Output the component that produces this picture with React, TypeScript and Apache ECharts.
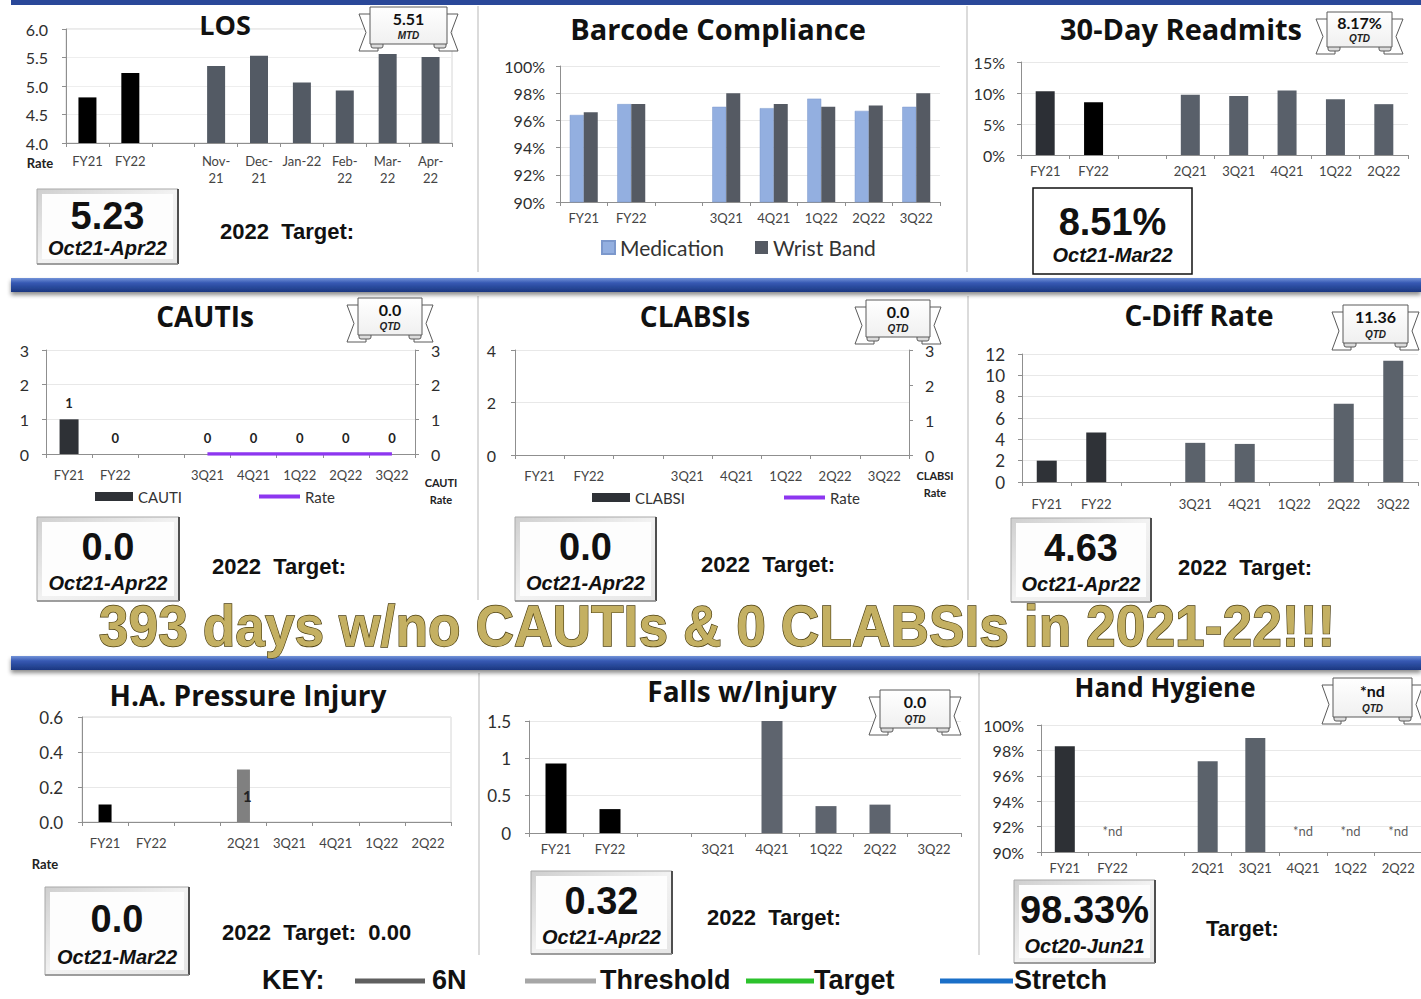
import React, { useEffect, useRef } from 'react';
import * as echarts from 'echarts';

// ---------------- DATA ----------------
const LOS_CATS = ['FY21', 'FY22', '', 'Nov-\n21', 'Dec-\n21', 'Jan-22', 'Feb-\n22', 'Mar-\n22', 'Apr-\n22'];
const LOS_VALUES = [4.8, 5.23, null, 5.35, 5.53, 5.06, 4.92, 5.56, 5.51];

const BARCODE_CATS = ['FY21', 'FY22', '', '3Q21', '4Q21', '1Q22', '2Q22', '3Q22'];
const BARCODE_MEDICATION = [96.4, 97.2, null, 97.0, 96.9, 97.6, 96.7, 97.0];
const BARCODE_WRISTBAND = [96.6, 97.2, null, 98.0, 97.2, 97.0, 97.1, 98.0];

const READMIT_CATS = ['FY21', 'FY22', '', '2Q21', '3Q21', '4Q21', '1Q22', '2Q22'];
const READMIT_VALUES = [10.3, 8.51, null, 9.7, 9.5, 10.4, 9.0, 8.2];

const CAUTI_CATS = ['FY21', 'FY22', '', '3Q21', '4Q21', '1Q22', '2Q22', '3Q22'];
const CAUTI_COUNTS = [1, 0, null, 0, 0, 0, 0, 0];
const CAUTI_RATE = [null, null, null, 0, 0, 0, 0, 0];

const CLABSI_CATS = ['FY21', 'FY22', '', '3Q21', '4Q21', '1Q22', '2Q22', '3Q22'];
const CLABSI_COUNTS = [null, null, null, null, null, null, null, null];
const CLABSI_RATE = [null, null, null, null, null, null, null, null];

const CDIFF_CATS = ['FY21', 'FY22', '', '3Q21', '4Q21', '1Q22', '2Q22', '3Q22'];
const CDIFF_VALUES = [2.0, 4.63, null, 3.67, 3.57, null, 7.33, 11.36];

const HAPI_CATS = ['FY21', 'FY22', '', '2Q21', '3Q21', '4Q21', '1Q22', '2Q22'];
const HAPI_VALUES = [0.1, null, null, 0.3, null, null, null, null];
const HAPI_COUNTS = [null, null, null, 1, null, null, null, null];

const FALLS_CATS = ['FY21', 'FY22', '', '3Q21', '4Q21', '1Q22', '2Q22', '3Q22'];
const FALLS_VALUES = [0.93, 0.32, null, null, 1.51, 0.36, 0.38, null];

const HH_CATS = ['FY21', 'FY22', '', '2Q21', '3Q21', '4Q21', '1Q22', '2Q22'];
const HH_VALUES = [98.33, null, null, 97.15, 98.98, null, null, null];
const HH_NOTES = ['', '*nd', '', '', '', '*nd', '*nd', '*nd'];

const PANEL_TITLES = ['LOS', 'Barcode Compliance', '30-Day Readmits', 'CAUTIs', 'CLABSIs', 'C-Diff Rate', 'H.A. Pressure Injury', 'Falls w/Injury', 'Hand Hygiene'];
const KPI_VALUES = ['5.23', '8.51%', '0.0', '0.0', '4.63', '0.0', '0.32', '98.33%'];
const KPI_PERIODS = ['Oct21-Apr22', 'Oct21-Mar22', 'Oct21-Apr22', 'Oct21-Apr22', 'Oct21-Apr22', 'Oct21-Mar22', 'Oct21-Apr22', 'Oct20-Jun21'];
const RIBBON_VALUES = ['5.51', '8.17%', '0.0', '0.0', '11.36', '0.0', '*nd'];
const RIBBON_PERIODS = ['MTD', 'QTD', 'QTD', 'QTD', 'QTD', 'QTD', 'QTD'];
const TARGET_TEXTS = ['2022  Target:', '2022  Target:', '2022  Target:', '2022  Target:', '2022  Target:  0.00', '2022  Target:', 'Target:'];
const BANNER_TEXT = '393 days w/no CAUTIs & 0 CLABSIs in 2021-22!!!';
const KEY_ITEMS = ['6N', 'Threshold', 'Target', 'Stretch'];

// ---------------- STYLE HELPERS ----------------
const LATO = 'Lato';
const OPEN = '"Open Sans"';
const ARIAL = '"Liberation Sans", Arial, sans-serif';
const AXIS_COLOR = '#8f8f8f';

function grid(left: number, top: number, width: number, height: number, border = false) {
  return {
    left, top, width, height,
    containLabel: false,
    outerBoundsMode: 'none',
    show: border,
    borderColor: '#d6d6d6',
    borderWidth: 1,
    backgroundColor: 'transparent',
  };
}

function xCat(gridIndex: number, data: string[], margin: number) {
  return {
    type: 'category', gridIndex, data,
    axisLine: { show: true, lineStyle: { color: AXIS_COLOR, width: 1 } },
    axisTick: { show: true, length: 4, lineStyle: { color: AXIS_COLOR } },
    axisLabel: { interval: 0, margin, fontFamily: LATO, fontSize: 13, color: '#444444', lineHeight: 17 },
    splitLine: { show: false },
  };
}

function yVal(gridIndex: number, min: number, max: number, interval: number, formatter: any, margin: number, extra: any = {}) {
  return {
    type: 'value', gridIndex, min, max, interval,
    axisLine: { show: true, lineStyle: { color: AXIS_COLOR, width: 1 } },
    axisTick: { show: true, length: 4, lineStyle: { color: AXIS_COLOR } },
    axisLabel: { margin, fontFamily: LATO, fontSize: 16, color: '#2e2e2e', formatter },
    splitLine: { show: true, lineStyle: { color: '#e8e8e8', width: 1 } },
    ...extra,
  };
}

function barData(values: (number | null)[], colorAt: (i: number) => string) {
  return values.map((v, i) => (v == null ? '-' : { value: v, itemStyle: { color: colorAt(i) } }));
}

function txt(text: string, x: number, y: number, size: number, opts: any = {}) {
  return {
    type: 'text', x, y, z: opts.z ?? 60,
    scaleX: opts.scaleX ?? 1,
    style: {
      text,
      fontFamily: opts.family ?? ARIAL,
      fontWeight: opts.weight ?? 'bold',
      fontStyle: opts.italic ? 'italic' : 'normal',
      fontSize: size,
      fill: opts.fill ?? '#111111',
      align: opts.align ?? 'left',
      verticalAlign: 'middle',
      ...(opts.extraStyle || {}),
    },
  };
}

function bevelBox(x: number, y: number, w: number, h: number, big: string, small: string, bigSize = 36) {
  return [
    {
      type: 'rect', z: 40, shape: { x, y, width: w, height: h },
      style: {
        fill: new echarts.graphic.LinearGradient(0, 0, 1, 1, [
          { offset: 0, color: '#cfcfcf' }, { offset: 0.5, color: '#f2f2f2' }, { offset: 1, color: '#e6e6e6' },
        ]),
        stroke: '#a9a9a9', lineWidth: 1,
      },
    },
    { type: 'rect', z: 41, shape: { x: x + 5, y: y + 5, width: w - 10, height: h - 10 }, style: { fill: '#fdfdfd' } },
    { type: 'line', z: 42, shape: { x1: x + w, y1: y, x2: x + w, y2: y + h }, style: { stroke: '#4f4f4f', lineWidth: 2 } },
    { type: 'line', z: 42, shape: { x1: x, y1: y + h, x2: x + w, y2: y + h }, style: { stroke: '#8c8c8c', lineWidth: 1.5 } },
    txt(big, x + w / 2, y + h * 0.36, bigSize, { align: 'center' }),
    txt(small, x + w / 2, y + h * 0.79, 20, { align: 'center', italic: true }),
  ];
}

function plainBox(x: number, y: number, w: number, h: number, big: string, small: string) {
  return [
    { type: 'rect', z: 40, shape: { x, y, width: w, height: h }, style: { fill: '#ffffff', stroke: '#111111', lineWidth: 1.5 } },
    txt(big, x + w / 2, y + h * 0.39, 38, { align: 'center' }),
    txt(small, x + w / 2, y + h * 0.78, 20, { align: 'center', italic: true }),
  ];
}

function ribbon(x: number, y: number, w: number, h: number, big: string, small: string) {
  const d = 7, t = 11;
  const st = { fill: '#ffffff', stroke: '#5a5a5a', lineWidth: 1 };
  const fold = { fill: '#dcdcdc', stroke: '#5a5a5a', lineWidth: 1 };
  return [
    { type: 'polygon', z: 100, shape: { points: [[x + 8, y + d], [x - t, y + d], [x - t + 7, y + h / 2 + d], [x - t, y + h + d], [x + 8, y + h + d]] }, style: st },
    { type: 'polygon', z: 100, shape: { points: [[x + w - 8, y + d], [x + w + t, y + d], [x + w + t - 7, y + h / 2 + d], [x + w + t, y + h + d], [x + w - 8, y + h + d]] }, style: st },
    { type: 'rect', z: 101, shape: { x: x + 1, y: y + h - 3, width: 12, height: 7, r: 2 }, style: fold },
    { type: 'rect', z: 101, shape: { x: x + w - 13, y: y + h - 3, width: 12, height: 7, r: 2 }, style: fold },
    {
      type: 'rect', z: 102, shape: { x, y, width: w, height: h },
      style: {
        fill: new echarts.graphic.LinearGradient(0, 0, 0, 1, [{ offset: 0, color: '#ffffff' }, { offset: 1, color: '#f0f0f0' }]),
        stroke: '#5a5a5a', lineWidth: 1,
      },
    },
    txt(big, x + w / 2, y + h * 0.31, 16, { align: 'center', family: LATO, z: 103 }),
    txt(small, x + w / 2, y + h * 0.77, 10, { align: 'center', italic: true, z: 103, fill: '#222' }),
  ];
}

function blueBar(y: number) {
  return {
    type: 'rect', z: 30, shape: { x: 11, y, width: 1410, height: 14 },
    style: {
      fill: new echarts.graphic.LinearGradient(0, 0, 0, 1, [
        { offset: 0, color: '#7393d8' }, { offset: 0.35, color: '#3659b3' }, { offset: 1, color: '#1b3780' },
      ]),
      shadowBlur: 4, shadowColor: 'rgba(0,0,0,0.45)', shadowOffsetY: 3,
    },
  };
}

function vline(x: number, y1: number, y2: number) {
  return { type: 'line', z: 5, shape: { x1: x, y1, x2: x, y2 }, style: { stroke: '#cfcfcf', lineWidth: 1.5 } };
}

function keyLine(x1: number, x2: number, y: number, color: string) {
  return { type: 'line', z: 60, shape: { x1, y1: y, x2, y2: y }, style: { stroke: color, lineWidth: 5 } };
}

function buildOption() {
  const fyDark = (fy: string, q: string) => (i: number) => (i < 2 ? fy : q);

  const grids = [
    grid(66, 29, 386, 114, true),   // LOS
    grid(560, 66, 380, 136),        // Barcode
    grid(1021, 62, 387, 93),        // Readmits
    grid(46, 350, 369, 104),        // CAUTI
    grid(515, 350, 394, 105),       // CLABSI
    grid(1022, 354, 396, 128),      // C-Diff
    grid(82, 717, 369, 105, true),  // HAPI
    grid(529, 721, 432, 112),       // Falls
    grid(1041, 725, 381, 127),      // Hand hygiene
  ];

  const pct = (v: number) => v + '%';
  const oneDec = (v: number) => v.toFixed(1);

  const xAxis = [
    xCat(0, LOS_CATS, 9),
    xCat(1, BARCODE_CATS, 7),
    xCat(2, READMIT_CATS, 7),
    xCat(3, CAUTI_CATS, 12),
    xCat(4, CLABSI_CATS, 12),
    xCat(5, CDIFF_CATS, 13),
    xCat(6, HAPI_CATS, 12),
    xCat(7, FALLS_CATS, 7),
    xCat(8, HH_CATS, 7),
  ];

  const yAxis = [
    yVal(0, 4, 6, 0.5, oneDec, 18, { splitLine: { show: true, lineStyle: { color: '#eeeeee' } } }), // 0 LOS
    yVal(1, 90, 100, 2, pct, 15),                      // 1 Barcode
    yVal(2, 0, 15, 5, pct, 16),                        // 2 Readmits
    yVal(3, 0, 3, 1, null, 17),                        // 3 CAUTI left
    yVal(3, 0, 3, 1, null, 16, { position: 'right', splitLine: { show: false } }), // 4 CAUTI right
    yVal(4, 0, 4, 2, null, 19),                        // 5 CLABSI left
    yVal(4, 0, 3, 1, null, 16, { position: 'right', splitLine: { show: false } }), // 6 CLABSI right
    yVal(5, 0, 12, 2, null, 17, { axisLabel: { margin: 17, fontFamily: LATO, fontSize: 17, color: '#2e2e2e' } }), // 7 C-Diff
    yVal(6, 0, 0.6, 0.2, oneDec, 19, { axisLabel: { margin: 19, fontFamily: LATO, fontSize: 17, color: '#2e2e2e', formatter: oneDec } }), // 8 HAPI
    yVal(7, 0, 1.5, 0.5, null, 18, { axisLabel: { margin: 18, fontFamily: LATO, fontSize: 17, color: '#2e2e2e' } }), // 9 Falls
    yVal(8, 90, 100, 2, pct, 17),                      // 10 Hand hygiene
  ];

  const series: any[] = [
    {
      name: 'LOS', type: 'bar', xAxisIndex: 0, yAxisIndex: 0, barWidth: 18,
      data: barData(LOS_VALUES, fyDark('#000000', '#535a64')),
    },
    {
      name: 'Medication', type: 'bar', xAxisIndex: 1, yAxisIndex: 1, barWidth: 14, barGap: '0%',
      itemStyle: { color: '#93afe0', borderColor: '#7c98cc', borderWidth: 0.5 },
      data: BARCODE_MEDICATION.map((v) => (v == null ? '-' : v)),
    },
    {
      name: 'Wrist Band', type: 'bar', xAxisIndex: 1, yAxisIndex: 1, barWidth: 14, barGap: '0%',
      itemStyle: { color: '#555a63' },
      data: BARCODE_WRISTBAND.map((v) => (v == null ? '-' : v)),
    },
    {
      name: 'Readmits', type: 'bar', xAxisIndex: 2, yAxisIndex: 2, barWidth: 19,
      data: barData(READMIT_VALUES, (i) => (i === 0 ? '#2c2f35' : i === 1 ? '#000000' : '#59606a')),
    },
    {
      name: 'CAUTI', type: 'bar', xAxisIndex: 3, yAxisIndex: 3, barWidth: 19,
      itemStyle: { color: '#2e3136' },
      label: { show: true, position: 'top', distance: 10, fontFamily: LATO, fontWeight: 'bold', fontSize: 13, color: '#222' },
      data: CAUTI_COUNTS.map((v) => (v == null ? '-' : v)),
    },
    {
      name: 'CAUTI Rate', type: 'line', xAxisIndex: 3, yAxisIndex: 4, symbol: 'none', showSymbol: false,
      lineStyle: { color: '#8d36f0', width: 3.5 }, itemStyle: { color: '#8d36f0' },
      data: CAUTI_RATE.map((v) => (v == null ? '-' : v)),
    },
    {
      name: 'CLABSI', type: 'bar', xAxisIndex: 4, yAxisIndex: 5, barWidth: 19,
      itemStyle: { color: '#2e3136' },
      data: CLABSI_COUNTS.map((v) => (v == null ? '-' : v)),
    },
    {
      name: 'CLABSI Rate', type: 'line', xAxisIndex: 4, yAxisIndex: 6, symbol: 'none', showSymbol: false,
      lineStyle: { color: '#8d36f0', width: 3.5 }, itemStyle: { color: '#8d36f0' },
      data: CLABSI_RATE.map((v) => (v == null ? '-' : v)),
    },
    {
      name: 'C-Diff', type: 'bar', xAxisIndex: 5, yAxisIndex: 7, barWidth: 20,
      data: barData(CDIFF_VALUES, fyDark('#2f3237', '#5b626b')),
    },
    {
      name: 'HAPI', type: 'bar', xAxisIndex: 6, yAxisIndex: 8, barWidth: 13,
      label: {
        show: true, position: 'inside', offset: [4, 0], fontFamily: LATO, fontWeight: 'bold', fontSize: 15, color: '#222',
        formatter: (p: any) => (HAPI_COUNTS[p.dataIndex] == null ? '' : String(HAPI_COUNTS[p.dataIndex])),
      },
      data: barData(HAPI_VALUES, (i) => (i < 2 ? '#000000' : '#808080')),
    },
    {
      name: 'Falls', type: 'bar', xAxisIndex: 7, yAxisIndex: 9, barWidth: 21,
      data: barData(FALLS_VALUES, fyDark('#000000', '#5e646e')),
    },
    {
      name: 'Hand Hygiene', type: 'bar', xAxisIndex: 8, yAxisIndex: 10, barWidth: 20,
      data: barData(HH_VALUES, fyDark('#2d3035', '#5b626b')),
    },
    {
      name: 'HH no data', type: 'scatter', xAxisIndex: 8, yAxisIndex: 10, symbolSize: 1, clip: false,
      itemStyle: { color: 'rgba(0,0,0,0)' },
      label: {
        show: true, position: 'top', distance: 14, fontFamily: LATO, fontSize: 13, color: '#333',
        formatter: (p: any) => HH_NOTES[p.dataIndex],
      },
      data: HH_NOTES.map((n) => (n ? 90 : '-')),
    },
  ];

  const legendBase = { orient: 'horizontal', padding: 0, selectedMode: false, icon: 'rect', itemGap: 0 };
  const legend = [
    { ...legendBase, data: ['Medication'], left: 601, top: 237, itemWidth: 13, itemHeight: 13, textStyle: { fontFamily: LATO, fontSize: 21, color: '#333' } },
    { ...legendBase, data: ['Wrist Band'], left: 755, top: 237, itemWidth: 13, itemHeight: 13, textStyle: { fontFamily: LATO, fontSize: 21, color: '#333' } },
    { ...legendBase, data: ['CAUTI'], left: 95, top: 489, itemWidth: 38, itemHeight: 9, itemStyle: { color: '#2e3136' }, textStyle: { fontFamily: LATO, fontSize: 15, color: '#333' } },
    { ...legendBase, data: ['CAUTI Rate'], left: 259, top: 489, itemWidth: 41, itemHeight: 4, formatter: () => 'Rate', textStyle: { fontFamily: LATO, fontSize: 15, color: '#333' } },
    { ...legendBase, data: ['CLABSI'], left: 592, top: 490, itemWidth: 38, itemHeight: 9, itemStyle: { color: '#2e3136' }, textStyle: { fontFamily: LATO, fontSize: 15, color: '#333' } },
    { ...legendBase, data: ['CLABSI Rate'], left: 784, top: 490, itemWidth: 41, itemHeight: 4, formatter: () => 'Rate', textStyle: { fontFamily: LATO, fontSize: 15, color: '#333' } },
  ];

  const titleOpts = { align: 'center', family: OPEN, fill: '#111', z: 60 };

  const banner = {
    type: 'text', x: 717, y: 626, z: 90, scaleX: 0.92,
    style: {
      text: BANNER_TEXT,
      fontFamily: ARIAL, fontWeight: 'bold', fontSize: 58,
      align: 'center', verticalAlign: 'middle',
      fill: '#c4b062',
      stroke: '#4a3d10', lineWidth: 1.4,
      shadowBlur: 3, shadowColor: 'rgba(0,0,0,0.5)', shadowOffsetX: 2, shadowOffsetY: 2,
    },
  };

  const elements: any[] = [
    { type: 'rect', z: 30, shape: { x: 11, y: 0, width: 1410, height: 5 }, style: { fill: '#2a4899' } },
    blueBar(278),
    blueBar(656),
    vline(478, 6, 272), vline(967, 6, 272),
    vline(478, 296, 600), vline(968, 296, 600),
    vline(479, 673, 955), vline(979, 673, 955),

    // titles
    txt(PANEL_TITLES[0], 225, 24, 27, titleOpts),
    txt(PANEL_TITLES[1], 718, 28, 29, titleOpts),
    txt(PANEL_TITLES[2], 1181, 28, 29, titleOpts),
    txt(PANEL_TITLES[3], 205, 316, 28, titleOpts),
    txt(PANEL_TITLES[4], 695, 316, 28, titleOpts),
    txt(PANEL_TITLES[5], 1199, 315, 28, titleOpts),
    txt(PANEL_TITLES[6], 248, 695, 28, titleOpts),
    txt(PANEL_TITLES[7], 742, 691, 28, titleOpts),
    txt(PANEL_TITLES[8], 1165, 687, 26, titleOpts),

    // small axis captions
    txt('Rate', 40, 163, 13, { align: 'center', family: LATO, fill: '#222' }),
    txt('Rate', 45, 864, 13, { align: 'center', family: LATO, fill: '#222' }),
    txt('CAUTI', 441, 482, 11, { align: 'center', family: LATO, fill: '#222' }),
    txt('Rate', 441, 499, 11, { align: 'center', family: LATO, fill: '#222' }),
    txt('CLABSI', 935, 475, 11, { align: 'center', family: LATO, fill: '#222' }),
    txt('Rate', 935, 492, 11, { align: 'center', family: LATO, fill: '#222' }),

    // KPI boxes
    ...bevelBox(37, 189, 141, 75, KPI_VALUES[0], KPI_PERIODS[0], 38),
    ...plainBox(1033, 188, 159, 86, KPI_VALUES[1], KPI_PERIODS[1]),
    ...bevelBox(37, 517, 142, 84, KPI_VALUES[2], KPI_PERIODS[2], 38),
    ...bevelBox(515, 517, 141, 84, KPI_VALUES[3], KPI_PERIODS[3], 38),
    ...bevelBox(1011, 518, 140, 84, KPI_VALUES[4], KPI_PERIODS[4], 38),
    ...bevelBox(45, 887, 144, 88, KPI_VALUES[5], KPI_PERIODS[5], 38),
    ...bevelBox(531, 871, 141, 83, KPI_VALUES[6], KPI_PERIODS[6], 38),
    ...bevelBox(1014, 880, 141, 83, KPI_VALUES[7], KPI_PERIODS[7], 38),

    // targets
    txt(TARGET_TEXTS[0], 220, 231, 22),
    txt(TARGET_TEXTS[1], 212, 566, 22),
    txt(TARGET_TEXTS[2], 701, 564, 22),
    txt(TARGET_TEXTS[3], 1178, 567, 22),
    txt(TARGET_TEXTS[4], 222, 932, 22),
    txt(TARGET_TEXTS[5], 707, 917, 22),
    txt(TARGET_TEXTS[6], 1206, 928, 22),

    // ribbons
    ...ribbon(370, 7, 77, 37, RIBBON_VALUES[0], RIBBON_PERIODS[0]),
    ...ribbon(1327, 12, 65, 35, RIBBON_VALUES[1], RIBBON_PERIODS[1]),
    ...ribbon(358, 298, 64, 37, RIBBON_VALUES[2], RIBBON_PERIODS[2]),
    ...ribbon(866, 300, 64, 37, RIBBON_VALUES[3], RIBBON_PERIODS[3]),
    ...ribbon(1343, 305, 65, 38, RIBBON_VALUES[4], RIBBON_PERIODS[4]),
    ...ribbon(880, 690, 70, 38, RIBBON_VALUES[5], RIBBON_PERIODS[5]),
    ...ribbon(1333, 678, 79, 39, RIBBON_VALUES[6], RIBBON_PERIODS[6]),

    banner,

    // key
    txt('KEY:', 262, 980, 27),
    keyLine(355, 425, 981, '#5f5f5f'),
    txt(KEY_ITEMS[0], 432, 980, 27),
    keyLine(525, 596, 981, '#a6a6a6'),
    txt(KEY_ITEMS[1], 600, 980, 27),
    keyLine(746, 814, 981, '#2cc22c'),
    txt(KEY_ITEMS[2], 814, 980, 27),
    keyLine(940, 1013, 981, '#1a6fc8'),
    txt(KEY_ITEMS[3], 1014, 980, 27),
  ];

  return {
    animation: false,
    backgroundColor: '#ffffff',
    textStyle: { fontFamily: LATO },
    grid: grids,
    xAxis,
    yAxis,
    series,
    legend,
    graphic: { elements },
  };
}

export default function App() {
  const ref = useRef<HTMLDivElement>(null);
  useEffect(() => {
    if (!ref.current) return;
    const chart = echarts.init(ref.current, undefined, { renderer: 'svg' });
    chart.setOption(buildOption() as any);
    return () => chart.dispose();
  }, []);
  return (
    <div
      ref={ref}
      style={{ position: 'absolute', left: 0, top: 0, width: 1421, height: 999, background: '#ffffff' }}
    />
  );
}
